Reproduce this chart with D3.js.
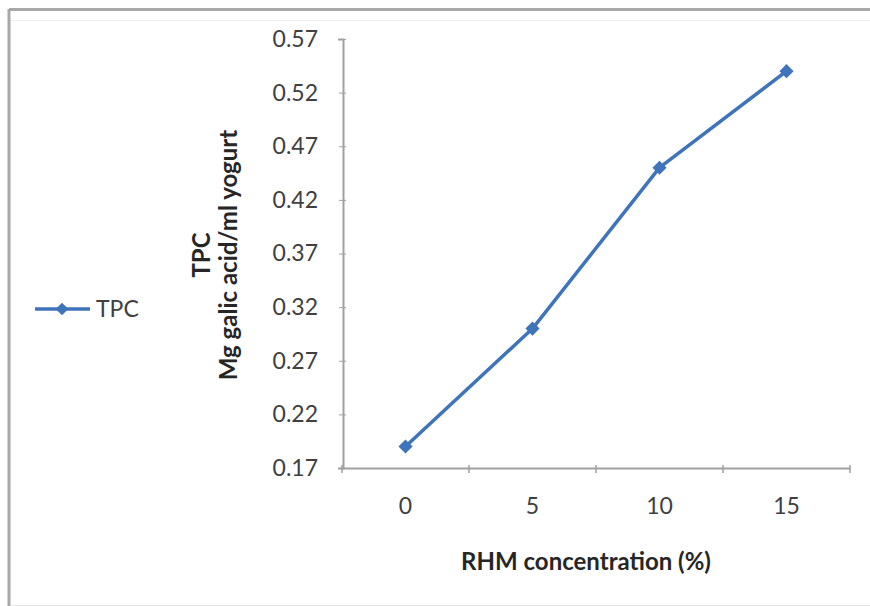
<!DOCTYPE html>
<html><head><meta charset="utf-8">
<script src="https://cdn.jsdelivr.net/npm/d3@7"></script>
<style>body{margin:0;background:#fff}svg{display:block}</style>
</head><body>
<script>
const categories = ["0", "5", "10", "15"];
const tpcValues = [0.19, 0.30, 0.45, 0.54];
const yTicks = [0.17, 0.22, 0.27, 0.32, 0.37, 0.42, 0.47, 0.52, 0.57];
const seriesName = "TPC";
const xTitle = "RHM concentration (%)";
const yTitleLines = ["TPC", "Mg galic acid/ml yogurt"];

const W = 870, H = 606;
const svg = d3.select("body").append("svg").attr("width", W).attr("height", H);
const font = "Lato, 'Open Sans', sans-serif";
const blue = "#3f74bb";

// outer frame
svg.append("line").attr("x1", 9).attr("x2", W).attr("y1", 9.5).attr("y2", 9.5).attr("stroke", "#a8a8a8").attr("stroke-width", 3);
svg.append("line").attr("x1", 9).attr("x2", 9).attr("y1", 9).attr("y2", H).attr("stroke", "#a8a8a8").attr("stroke-width", 3);
svg.append("line").attr("x1", 11).attr("x2", W).attr("y1", 20.5).attr("y2", 20.5).attr("stroke", "#f0f0f0").attr("stroke-width", 1);
svg.append("line").attr("x1", 11).attr("x2", W).attr("y1", 605.5).attr("y2", 605.5).attr("stroke", "#e6e6e6").attr("stroke-width", 1);

const x = d3.scaleBand().domain(categories).range([342, 850]).padding(0);
const y = d3.scaleLinear().domain([0.17, 0.57]).range([468, 39]);

const axisColor = "#a0a0a0";
// y axis
const gy = svg.append("g").attr("transform", "translate(343,0)")
  .call(d3.axisLeft(y).tickValues(yTicks).tickFormat(d3.format(".2f")).tickSize(5).tickPadding(20));
gy.select(".domain").attr("stroke", axisColor).attr("stroke-width", 2);
gy.selectAll(".tick line").attr("stroke", axisColor).attr("x2", 3).attr("x1", -4);
gy.selectAll("text").attr("font-family", font).attr("font-size", 23).attr("fill", "#404040");

// x axis
const gx = svg.append("g").attr("transform", "translate(0,468)")
  .call(d3.axisBottom(x).tickSize(0).tickPadding(30));
gx.select(".domain").attr("stroke", axisColor).attr("stroke-width", 2);
gx.selectAll("text").attr("font-family", font).attr("font-size", 23).attr("fill", "#404040");
// boundary ticks
const bounds = categories.map(c => x(c)).concat([x.range()[1]]);
gx.selectAll(".btick").data(bounds).enter().append("line")
  .attr("x1", d => d).attr("x2", d => d).attr("y1", -3).attr("y2", 5)
  .attr("stroke", axisColor).attr("stroke-width", 1.5);

// titles
svg.append("text").attr("x", 586).attr("y", 570).attr("text-anchor", "middle")
  .attr("font-family", font).attr("font-weight", "bold").attr("font-size", 24).attr("fill", "#262626")
  .text(xTitle);
const yt = svg.append("text").attr("transform", "translate(0,255) rotate(-90)")
  .attr("text-anchor", "middle").attr("font-family", font).attr("font-weight", "bold")
  .attr("font-size", 24).attr("fill", "#262626");
yt.append("tspan").attr("x", 0).attr("y", 210).text(yTitleLines[0]);
yt.append("tspan").attr("x", 0).attr("y", 237).text(yTitleLines[1]);

// line
const cx = d => x(d) + x.bandwidth() / 2;
const line = d3.line().x((d, i) => cx(categories[i])).y(d => y(d));
svg.append("path").datum(tpcValues).attr("d", line).attr("fill", "none")
  .attr("stroke", blue).attr("stroke-width", 3.5).attr("stroke-linejoin", "round");
svg.selectAll(".pt").data(tpcValues).enter().append("path")
  .attr("d", d3.symbol().type(d3.symbolSquare).size(100)())
  .attr("transform", (d, i) => `translate(${cx(categories[i])},${y(d)}) rotate(45)`)
  .attr("fill", blue);

// legend
svg.append("line").attr("x1", 35).attr("x2", 90).attr("y1", 309).attr("y2", 309)
  .attr("stroke", blue).attr("stroke-width", 3.5);
svg.append("path").attr("d", d3.symbol().type(d3.symbolSquare).size(80)())
  .attr("transform", "translate(62,309) rotate(45)").attr("fill", blue);
svg.append("text").attr("x", 96).attr("y", 317).attr("font-family", font)
  .attr("font-size", 23).attr("fill", "#404040").text(seriesName);
</script>
</body></html>
